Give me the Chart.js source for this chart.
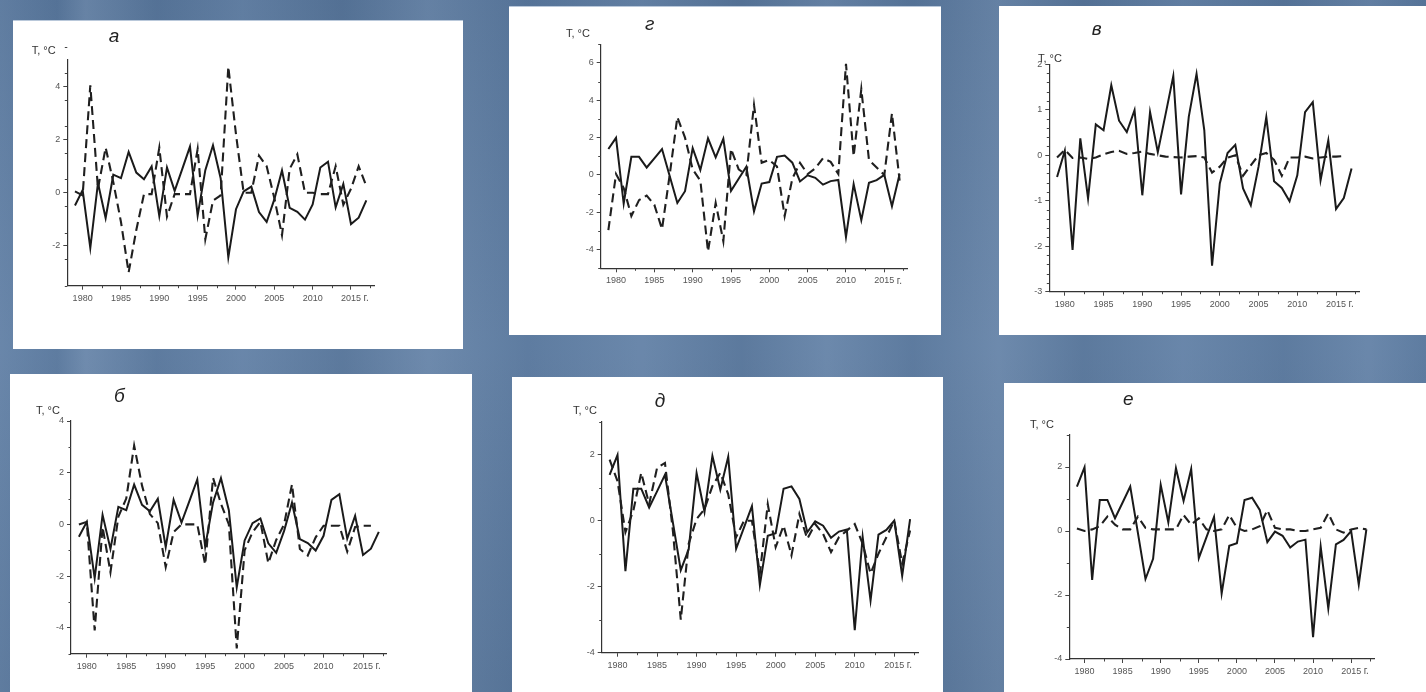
<!DOCTYPE html>
<html>
<head>
<meta charset="utf-8">
<script src="https://cdn.jsdelivr.net/npm/chart.js@4.4.1/dist/chart.umd.min.js"></script>
<style>
  html, body { margin: 0; padding: 0; }
  body {
    width: 1426px; height: 692px; position: relative; overflow: hidden;
    background-color: #5b7ba2;
    background-image:
      linear-gradient(90deg,
        rgba(255,255,255,0.05) 0%, rgba(0,0,0,0.03) 4%, rgba(255,255,255,0.09) 6%,
        rgba(0,0,0,0.04) 11%, rgba(255,255,255,0.05) 17%, rgba(0,0,0,0.05) 24%,
        rgba(255,255,255,0.08) 30%, rgba(0,0,0,0.03) 37%, rgba(255,255,255,0.06) 45%,
        rgba(0,0,0,0.05) 52%, rgba(255,255,255,0.07) 58%, rgba(0,0,0,0.04) 64%,
        rgba(255,255,255,0.08) 70%, rgba(0,0,0,0.05) 76%, rgba(255,255,255,0.05) 83%,
        rgba(0,0,0,0.04) 90%, rgba(255,255,255,0.06) 96%, rgba(0,0,0,0.03) 100%),
      linear-gradient(180deg, rgba(0,0,0,0.04) 0%, rgba(255,255,255,0.04) 50%, rgba(0,0,0,0.05) 100%);
  }
  .panel { position: absolute; background: #fff; }
  .panel.rule { box-shadow: inset 0 1px 0 0 #b9c8da; }
  .panel canvas { position: absolute; left: 0; top: 0; }
  .lbl {
    position: absolute; white-space: nowrap; line-height: 1;
    font-family: "Liberation Sans", Arial, sans-serif; color: #333;
    transform: translateY(-50%);
  }
  .ttl { font-style: italic; font-size: 19px; color: #222; transform: translate(-50%, -50%); }
  .unit { font-size: 11px; }
</style>
</head>
<body>
<script>
// Years of the record
const years = [1979, 1980, 1981, 1982, 1983, 1984, 1985, 1986, 1987, 1988,
               1989, 1990, 1991, 1992, 1993, 1994, 1995, 1996, 1997, 1998,
               1999, 2000, 2001, 2002, 2003, 2004, 2005, 2006, 2007, 2008,
               2009, 2010, 2011, 2012, 2013, 2014, 2015, 2016, 2017];
const xTickYears = [1980, 1985, 1990, 1995, 2000, 2005, 2010, 2015];

// Observed anomalies, T, °C (solid lines)
const observedWest = [-0.48, 0.1, -2.08, 0.37, -0.95, 0.68, 0.55, 1.54, 0.76, 0.51,
                      0.99, -0.88, 0.95, 0.07, 0.9, 1.74, -0.86, 0.85, 1.79, 0.55,
                      -2.43, -0.62, 0.05, 0.23, -0.73, -1.1, -0.25, 0.84, -0.57, -0.72,
                      -1.01, -0.44, 0.95, 1.17, -0.55, 0.33, -1.18, -0.94, -0.29];
const observedEast = [1.39, 1.99, -1.53, 0.97, 0.97, 0.4, 0.89, 1.39, -0.05, -1.5,
                      -0.87, 1.44, 0.27, 1.96, 0.94, 1.94, -0.85, -0.2, 0.44, -1.95,
                      -0.46, -0.38, 0.97, 1.04, 0.66, -0.35, -0.02, -0.15, -0.52, -0.33,
                      -0.27, -3.32, -0.49, -2.42, -0.42, -0.28, 0.0, -1.67, 0.05];

// Comparison series (dashed lines), one per panel
const dashA = [0.05, -0.1, 4.05, 0.15, 1.7, 0.4, -1.1, -3.0, -1.4, -0.05,
               -0.05, 1.7, -0.9, -0.05, -0.05, -0.05, 1.65, -1.75, -0.3, -0.1,
               4.75, 2.2, 0.0, 0.0, 1.4, 1.0, -0.2, -1.6, 0.9, 1.45,
               0.0, 0.0, -0.05, -0.05, 1.0, -0.45, 0.15, 1.0, 0.25];
const dashB = [0.0, 0.1, -4.1, -0.1, -1.85, 0.3, 1.0, 3.05, 1.5, 0.4,
               0.05, -1.65, -0.3, 0.0, 0.0, 0.0, -1.55, 1.8, 0.8, 0.0,
               -4.8, -1.0, -0.3, 0.1, -1.5, -0.6, 0.0, 1.55, -0.95, -1.2,
               -0.5, -0.05, -0.05, -0.05, -1.05, -0.1, -0.05, -0.05, null];
const dashV = [-0.05, 0.12, -0.06, -0.05, -0.08, -0.05, 0.02, 0.07, 0.1, 0.03,
               0.05, 0.08, 0.03, 0.0, -0.03, -0.04, -0.05, -0.03, -0.02, -0.05,
               -0.38, -0.25, -0.05, 0.0, -0.45, -0.22, 0.0, 0.05, -0.1, -0.45,
               -0.05, -0.05, -0.03, -0.07, -0.05, -0.03, -0.03, -0.02, null];
const dashG = [-2.95, 0.05, -0.7, -2.2, -1.35, -1.1, -1.6, -2.9, 0.0, 3.1,
               2.0, 0.3, -0.3, -4.1, -1.5, -3.55, 1.4, 0.3, 0.0, 3.75,
               0.65, 0.8, 0.45, -2.2, -0.2, 0.65, 0.05, 0.35, 0.9, 0.7,
               0.05, 5.95, 1.0, 4.6, 0.8, 0.4, 0.0, 3.3, -0.3];
const dashD = [1.85, 1.2, -0.35, 0.3, 1.45, 0.5, 1.6, 1.75, -0.3, -3.0,
               -0.7, 0.05, 0.35, 1.05, 1.45, 0.8, -0.5, 0.0, 0.0, -1.6,
               0.5, -0.8, -0.15, -1.05, 0.2, -0.55, -0.1, -0.4, -0.95, -0.5,
               -0.3, -0.1, -0.7, -1.6, -1.0, -0.5, 0.0, -1.3, -0.3];
const dashE = [0.08, 0.0, 0.05, 0.15, 0.45, 0.2, 0.05, 0.05, 0.45, 0.1,
               0.05, 0.05, 0.05, 0.05, 0.5, 0.2, 0.4, 0.05, 0.0, 0.05,
               0.5, 0.1, 0.0, 0.05, 0.15, 0.65, 0.1, 0.05, 0.05, 0.0,
               0.0, 0.05, 0.1, 0.55, 0.05, -0.05, 0.05, 0.1, 0.05];

// Labelled y ticks of each panel
const yTicksA = [-2, 0, 2, 4];
const yTicksG = [-4, -2, 0, 2, 4, 6];
const yTicksV = [-3, -2, -1, 0, 1, 2];
const yTicksB = [-4, -2, 0, 2, 4];
const yTicksD = [-4, -2, 0, 2];
const yTicksE = [-4, -2, 0, 2];

const unitText = 'T, °C';
const yearUnit = 'г.';
const FONT = '"Liberation Sans", Arial, sans-serif';
const YW = 30;   // width reserved for y tick labels
const XH = 22;   // height reserved for x tick labels

// Panel layout: white card box [x, y, w, h], plot frame inside the card [left, top, right, bottom]
const panels = [
  { letter: 'а', solid: observedWest, dashed: dashA, yTicks: yTicksA, yMin: -3.5, yMax: 5, yMinor: 1,
    box: [13, 20, 450, 329], frame: [54.3, 40, 361, 265.7], title: [114, 35], unit: [31.7, 50], rule: true },
  { letter: 'г', solid: observedEast, dashed: dashG, yTicks: yTicksG, yMin: -5, yMax: 7, yMinor: 1,
    box: [509, 6, 432, 329], frame: [91.7, 38.3, 398.3, 262.3], title: [649.7, 23.3], unit: [566, 33], rule: true },
  { letter: 'в', solid: observedWest, dashed: dashV, yTicks: yTicksV, yMin: -3, yMax: 2, yMinor: 0.2,
    box: [999, 6, 427, 329], frame: [50.3, 58.3, 360.3, 285.7], title: [1096.7, 28.3], unit: [1038, 57.5], rule: false },
  { letter: 'б', solid: observedWest, dashed: dashB, yTicks: yTicksB, yMin: -5, yMax: 4, yMinor: 1,
    box: [10, 374, 462, 318], frame: [61, 47, 376.7, 279.7], title: [119.3, 395], unit: [36, 410], rule: false },
  { letter: 'д', solid: observedEast, dashed: dashD, yTicks: yTicksD, yMin: -4, yMax: 3, yMinor: 1,
    box: [512, 377, 431, 315], frame: [89.7, 44.7, 406, 275.7], title: [660, 400], unit: [573, 410], rule: false },
  { letter: 'е', solid: observedEast, dashed: dashE, yTicks: yTicksE, yMin: -4, yMax: 3, yMinor: 1,
    box: [1004, 383, 422, 309], frame: [65.3, 52, 370, 276], title: [1128.3, 398], unit: [1030, 424], rule: false }
];

// Small ticks between the labelled ones, plus the year unit after the last label
const minorTicks = {
  id: 'minorTicks',
  afterDraw(chart, args, opts) {
    const { ctx, chartArea: a } = chart;
    const xs = chart.scales.x, ys = chart.scales.y;
    ctx.save();
    ctx.strokeStyle = '#444';
    ctx.lineWidth = 1;
    ctx.beginPath();
    const n = Math.round((opts.yMax - opts.yMin) / opts.yStep);
    for (let k = 0; k <= n; k++) {
      const v = opts.yMin + k * opts.yStep;
      if (opts.yMajor.some(m => Math.abs(m - v) < 1e-6)) continue;
      const py = Math.round(ys.getPixelForValue(v)) + 0.5;
      ctx.moveTo(a.left - 2.5, py);
      ctx.lineTo(a.left, py);
    }
    for (let i = 0; i < xTickYears.length; i++) {
      const v = xTickYears[i] + 2.5;
      if (v >= xs.max) break;
      const px = Math.round(xs.getPixelForValue(v)) + 0.5;
      ctx.moveTo(px, a.bottom);
      ctx.lineTo(px, a.bottom + 2.5);
    }
    ctx.stroke();
    ctx.fillStyle = '#555';
    ctx.font = '10px ' + FONT;
    ctx.textAlign = 'left';
    ctx.textBaseline = 'middle';
    ctx.fillText(yearUnit, xs.getPixelForValue(xTickYears[xTickYears.length - 1]) + 12.5, a.bottom + 12.5);
    ctx.restore();
  }
};

function toPoints(values) {
  return years.map((yr, i) => ({ x: yr, y: values[i] }));
}

panels.forEach(p => {
  const [bx, by, bw, bh] = p.box;
  const [fl, ft, fr, fb] = p.frame;

  const card = document.createElement('div');
  card.className = 'panel' + (p.rule ? ' rule' : '');
  card.style.cssText = `left:${bx}px;top:${by}px;width:${bw}px;height:${bh}px;`;
  const canvas = document.createElement('canvas');
  canvas.width = bw;
  canvas.height = bh;
  card.appendChild(canvas);
  document.body.appendChild(card);

  const ttl = document.createElement('div');
  ttl.className = 'lbl ttl';
  ttl.textContent = p.letter;
  ttl.style.left = p.title[0] + 'px';
  ttl.style.top = p.title[1] + 'px';
  document.body.appendChild(ttl);

  const unit = document.createElement('div');
  unit.className = 'lbl unit';
  unit.textContent = unitText;
  unit.style.left = p.unit[0] + 'px';
  unit.style.top = p.unit[1] + 'px';
  document.body.appendChild(unit);

  const tickFont = { family: FONT, size: 9 };

  new Chart(canvas, {
    type: 'line',
    data: {
      datasets: [
        { data: toPoints(p.dashed), borderColor: '#1f1f1f', borderWidth: 2.1, borderDash: [9, 5],
          pointRadius: 0, tension: 0, spanGaps: false },
        { data: toPoints(p.solid), borderColor: '#1a1a1a', borderWidth: 2,
          pointRadius: 0, tension: 0 }
      ]
    },
    options: {
      responsive: false,
      animation: false,
      devicePixelRatio: 1,
      layout: { padding: { left: fl - YW, top: ft, right: bw - fr, bottom: bh - fb - XH } },
      plugins: {
        legend: { display: false },
        tooltip: { enabled: false },
        minorTicks: { yMin: p.yMin, yMax: p.yMax, yStep: p.yMinor, yMajor: p.yTicks }
      },
      scales: {
        x: {
          type: 'linear', min: 1978, max: 2018,
          afterBuildTicks: s => { s.ticks = xTickYears.map(v => ({ value: v })); },
          afterFit: s => { s.height = XH; },
          ticks: { font: tickFont, color: '#555', padding: 3, maxRotation: 0, autoSkip: false,
                   callback: v => String(v) },
          grid: { drawOnChartArea: false, tickLength: 4, color: '#444' },
          border: { color: '#333', width: 1.2 }
        },
        y: {
          type: 'linear', min: p.yMin, max: p.yMax,
          afterBuildTicks: s => { s.ticks = p.yTicks.map(v => ({ value: v })); },
          afterFit: s => { s.width = YW; },
          ticks: { font: tickFont, color: '#555', padding: 3, autoSkip: false,
                   callback: v => String(v) },
          grid: { drawOnChartArea: false, tickLength: 4, color: '#444' },
          border: { color: '#333', width: 1.2 }
        }
      }
    },
    plugins: [minorTicks]
  });
});
</script>
</body>
</html>
